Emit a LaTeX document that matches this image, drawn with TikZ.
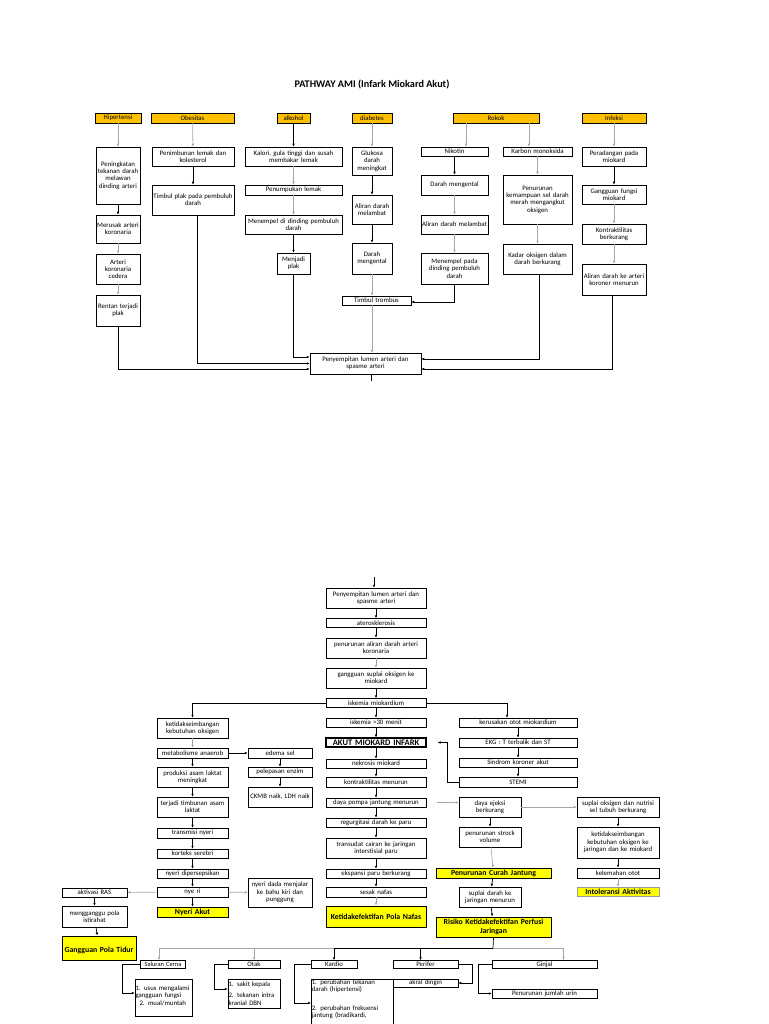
\documentclass[tikz,border=0pt]{standalone}
\usepackage{fontspec}
\setmainfont{Carlito}
\usetikzlibrary{arrows.meta}
\definecolor{causeorange}{HTML}{FFC000}
\definecolor{diagyellow}{HTML}{FFFF00}

\begin{document}
\begin{tikzpicture}[x=1pt, y=-1pt, >={Latex[length=3pt,width=2.6pt]},
      box/.style={
        % The shape:
        rectangle, draw, line width=0.5pt, inner xsep=0.5pt, inner ysep=0.5pt,
        % The rest
        fill=white, align=center, font=\fontsize{6.8}{7.3}\selectfont},
      cause/.style={box, fill=causeorange, minimum height=10pt},
      diag/.style={box, fill=diagyellow, line width=0.9pt,
        font=\fontsize{7.8}{8.6}\selectfont\bfseries},
      conn/.style={->, line width=0.7pt},
      connlight/.style={->, line width=0.6pt, black!35}]
    \path[use as bounding box, fill=white] (0,0) rectangle (768,1024);

    \node(title)[font=\fontsize{10.2}{12}\selectfont\bfseries, at={(372,84)}]{PATHWAY AMI (Infark Miokard Akut)};

    % causes
    \node(hip)[cause, text width=45pt, at={(118,118)}]{Hipertensi};
    \node(obe)[cause, text width=82pt, at={(192.5,118)}]{Obesitas};
    \node(alk)[cause, text width=32pt, at={(293.5,118)}]{alkohol};
    \node(dia)[cause, text width=39pt, at={(372,118)}]{diabetes};
    \node(rok)[cause, text width=85pt, at={(496,118)}]{Rokok};
    \node(inf)[cause, text width=63pt, at={(614,118)}]{Infeksi};

    % hipertensi
    \node(tek)[box, text width=43pt, minimum height=57pt, at={(118,175.5)}]{Peningkatan\\tekanan darah\\melawan\\dinding arteri};
    \node(rusak)[box, text width=43pt, minimum height=28pt, at={(118,229)}]{Merusak arteri\\koronaria};
    \node(cedera)[box, text width=43pt, minimum height=30pt, at={(118,269)}]{Arteri\\koronaria\\cedera};
    \node(rentan)[box, text width=43pt, minimum height=31pt, at={(118,310.5)}]{Rentan terjadi\\plak};
    \path (hip) edge[connlight] (tek);
    \path (tek) edge[conn] (rusak);
    \path (rusak) edge[connlight] (cedera);
    \path (cedera) edge[connlight] (rentan);

    % obesitas
    \node(lemak)[box, text width=81pt, minimum height=19pt, at={(193,156.5)}]{Penimbunan lemak dan\\kolesterol};
    \node(tplak)[box, text width=81pt, minimum height=30pt, at={(193,200)}]{Timbul plak pada pembuluh\\darah\\[3pt]};
    \path (obe) edge[connlight] (lemak);
    \path (lemak) edge[conn] (tplak);

    % alkohol
    \node(kalori)[box, text width=96pt, minimum height=19pt, at={(293.5,156.5)}]{Kalori, gula tinggi dan susah\\membakar lemak};
    \node(tumpuk)[box, text width=96pt, minimum height=10pt, at={(293.5,190)}]{Penumpukan lemak};
    \node(tempel)[box, text width=96pt, minimum height=19pt, at={(293.5,224.5)}]{Menempel di dinding pembuluh\\darah};
    \node(plak)[box, text width=32pt, minimum height=21pt, at={(293.5,263.5)}]{Menjadi\\plak};
    \path (alk) edge[conn] (kalori);
    \path (kalori) edge[connlight] (tumpuk);
    \path (tumpuk) edge[connlight] (tempel);
    \path (tempel) edge[conn] (plak);

    % diabetes
    \node(glukosa)[box, text width=39pt, minimum height=28pt, at={(372,161)}]{Glukosa\\darah\\meningkat};
    \node(lambat1)[box, text width=39pt, minimum height=29pt, at={(372,209.5)}]{Aliran darah\\melambat};
    \node(kental1)[box, text width=39pt, minimum height=31pt, at={(372,258.5)}]{Darah\\mengental};
    \node(trombus)[box, text width=68pt, minimum height=9pt, at={(376.5,300.5)}]{Timbul trombus};
    \path (dia) edge[connlight] (glukosa);
    \path (glukosa) edge[conn] (lambat1);
    \path (lambat1) edge[conn] (kental1);
    \draw[connlight] (kental1.south) -- (kental1 |- trombus.north);

    % rokok
    \node(nikotin)[box, text width=66pt, minimum height=9pt, at={(454.5,151.5)}]{Nikotin};
    \node(kental2)[box, text width=66pt, minimum height=20pt, at={(454.5,185)}]{Darah mengental};
    \node(lambat2)[box, text width=66pt, minimum height=19pt, at={(454.5,224.5)}]{Aliran darah melambat};
    \node(tempel2)[box, text width=66pt, minimum height=31pt, at={(454.5,268.5)}]{Menempel pada\\dinding pembuluh\\darah};
    \node(karbon)[box, text width=68pt, minimum height=9pt, at={(537.5,151.5)}]{Karbon monoksida};
    \node(sdm)[box, text width=68pt, minimum height=49pt, at={(537.5,199.5)}]{Penurunan\\kemampuan sel darah\\merah mengangkut\\oksigen};
    \node(kadar)[box, text width=68pt, minimum height=30pt, at={(537.5,259)}]{Kadar oksigen dalam\\darah berkurang};
    \draw[connlight] ([xshift=-30pt]rok.south) -- ([xshift=-30pt]rok.south |- nikotin.north);
    \draw[connlight] ([xshift=33pt]rok.south) -- ([xshift=33pt]rok.south |- karbon.north);
    \path (nikotin) edge[conn] (kental2);
    \path (kental2) edge[connlight] (lambat2);
    \path (lambat2) edge[connlight] (tempel2);
    \draw[conn] (tempel2.south) |- ([yshift=-1.5pt]trombus.east);
    \path (karbon) edge[connlight] (sdm);
    \path (sdm) edge[connlight] (kadar);

    % infeksi
    \node(radang)[box, text width=63pt, minimum height=19pt, at={(614,156.5)}]{Peradangan pada\\miokard};
    \node(fungsi)[box, text width=63pt, minimum height=19pt, at={(614,194.5)}]{Gangguan fungsi\\miokard};
    \node(kontrak1)[box, text width=63pt, minimum height=20pt, at={(614,234)}]{Kontraktilitas\\berkurang};
    \node(koroner)[box, text width=63pt, minimum height=31pt, at={(614,279.5)}]{Aliran darah ke arteri\\koroner menurun};
    \path (inf) edge[connlight] (radang);
    \path (radang) edge[conn] (fungsi);
    \path (fungsi) edge[connlight] (kontrak1);
    \path (kontrak1) edge[connlight] (koroner);

    % penyempitan
    \node(pen)[box, text width=110pt, minimum height=21pt, at={(365.5,363.5)}]{Penyempitan lumen arteri dan\\spasme arteri};
    \draw[conn] (rentan.south) |- ([yshift=-5.5pt]pen.west);
    \draw[conn] ([xshift=4pt]tplak.south) |- (pen.west);
    \draw[conn] (plak.south) |- ([yshift=6.5pt]pen.west);
    \draw[connlight] (kental1 |- trombus.south) -- (kental1 |- pen.north);
    \draw[conn] ([xshift=1.5pt]kadar.south) |- ([yshift=4.5pt]pen.east);
    \draw[conn] ([xshift=-2pt]koroner.south) |- ([yshift=-5.5pt]pen.east);
    \coordinate (lanjut) at (371,381);
    \draw[line width=0.7pt] (lanjut |- pen.south) -- (lanjut);

    % second part
    \coordinate (mulai) at (374,577);
    \node(pen2)[box, text width=99pt, minimum height=20pt, at={(376,598)}]{Penyempitan lumen arteri dan\\spasme arteri};
    \node(atero)[box, text width=99pt, minimum height=9pt, at={(376,623)}]{aterosklerosis};
    \node(alir)[box, text width=99pt, minimum height=20pt, at={(376,648)}]{penurunan aliran darah arteri\\koronaria};
    \node(suplai)[box, text width=99pt, minimum height=20pt, at={(376,678)}]{gangguan suplai oksigen ke\\miokard};
    \node(iskemia)[box, text width=99pt, minimum height=9pt, at={(376,703)}]{iskemia miokardium};
    \node(isk30)[box, text width=99pt, minimum height=9pt, at={(376,722.5)}]{iskemia >30 menit};
    \node(akut)[box, text width=99pt, minimum height=9pt, line width=1.1pt, font=\fontsize{8.5}{9}\selectfont\bfseries, at={(376,742.5)}]{AKUT MIOKARD INFARK};
    \node(nekrosis)[box, text width=99pt, minimum height=9pt, at={(376,763.5)}]{nekrosis miokard};
    \node(kontrak2)[box, text width=99pt, minimum height=10pt, at={(376,782)}]{kontraktilitas menurun};
    \node(pompa)[box, text width=99pt, minimum height=9pt, at={(376,802.5)}]{daya pompa jantung menurun};
    \node(regur)[box, text width=99pt, minimum height=9pt, at={(376,822.5)}]{regurgitasi darah ke paru};
    \node(transudat)[box, text width=99pt, minimum height=20pt, at={(376,848)}]{transudat cairan ke jaringan\\interstisial paru};
    \node(ekspansi)[box, text width=99pt, minimum height=9pt, at={(376,873.5)}]{ekspansi paru berkurang};
    \node(sesak)[box, text width=99pt, minimum height=10pt, at={(376,892)}]{sesak nafas};
    \node(nafas)[diag, text width=99pt, minimum height=21pt, at={(376,916.5)}]{Ketidakefektifan Pola Nafas};
    \draw[conn] (mulai) -- (mulai |- pen2.north);
    \path (pen2) edge[conn] (atero);
    \path (atero) edge[conn] (alir);
    \path (alir) edge[connlight] (suplai);
    \path (suplai) edge[conn] (iskemia);
    \path (iskemia) edge[conn] (isk30);
    \path (isk30) edge[conn] (akut);
    \path (akut) edge[conn] (nekrosis);
    \path (nekrosis) edge[conn] (kontrak2);
    \path (kontrak2) edge[conn] (pompa);
    \path (pompa) edge[conn] (regur);
    \path (regur) edge[conn] (transudat);
    \path (transudat) edge[conn] (ekspansi);
    \path (ekspansi) edge[conn] (sesak);
    \path (sesak) edge[connlight] (nafas);

    % left branch
    \node(seimbang1)[box, text width=70pt, minimum height=20pt, at={(192.5,728)}]{ketidakseimbangan\\kebutuhan oksigen};
    \node(anaerob)[box, text width=70pt, minimum height=10pt, at={(192.5,753)}]{metabolisme anaerob};
    \node(laktat)[box, text width=70pt, minimum height=20pt, at={(192.5,777)}]{produksi asam laktat\\meningkat};
    \node(timbunan)[box, text width=70pt, minimum height=20pt, at={(192.5,807)}]{terjadi timbunan asam\\laktat};
    \node(transmisi)[box, text width=70pt, minimum height=10pt, at={(192.5,833)}]{transmisi nyeri};
    \node(korteks)[box, text width=70pt, minimum height=9pt, at={(192.5,853.5)}]{korteks serebri};
    \node(persepsi)[box, text width=70pt, minimum height=9pt, at={(192.5,873.5)}]{nyeri dipersepsikan};
    \node(nyeri)[box, text width=70pt, minimum height=10pt, at={(192.5,892)}]{nye ri};
    \node(nyeriakut)[diag, text width=70pt, minimum height=10pt, line width=0.5pt, at={(192.5,912)}]{Nyeri Akut};
    \node(edema)[box, text width=63pt, minimum height=10pt, at={(280,753)}]{edema sel};
    \node(enzim)[box, text width=63pt, minimum height=10pt, at={(280,772)}]{pelepasan enzim};
    \node(ckmb)[box, text width=63pt, minimum height=20pt, at={(280,797)}]{\\[-3pt]CKMB naik, LDH naik};
    \node(menjalar)[box, text width=63pt, minimum height=29pt, at={(280,892.5)}]{nyeri dada menjalar\\ke bahu kiri dan\\punggung};
    \node(ras)[box, text width=64pt, minimum height=9pt, at={(94.5,892.5)}]{aktivasi RAS};
    \node(istirahat)[box, text width=64pt, minimum height=21pt, at={(94.5,916.5)}]{mengganggu pola\\istirahat};
    \node(tidur)[diag, text width=73pt, minimum height=24pt, line width=1pt, at={(99,948)}]{\\[1pt]Gangguan Pola Tidur};
    \draw[conn] (iskemia.west) -| (seimbang1.north);
    \path (seimbang1) edge[connlight] (anaerob);
    \path (anaerob) edge[conn] (laktat);
    \path (laktat) edge[conn] (timbunan);
    \path (timbunan) edge[conn] (transmisi);
    \path (transmisi) edge[conn] (korteks);
    \path (korteks) edge[conn] (persepsi);
    \path (persepsi) edge[conn] (nyeri);
    \path (nyeri) edge[conn] (nyeriakut);
    \path (anaerob) edge[conn] (edema);
    \path (edema) edge[conn] (enzim);
    \path (enzim) edge[conn] (ckmb);
    \path (nyeri) edge[connlight] (menjalar);
    \path (nyeri) edge[connlight] (ras);
    \path (ras) edge[conn] (istirahat);
    \path (istirahat) edge[conn] (tidur);

    % right branch
    \node(kerusakan)[box, text width=117pt, minimum height=9pt, at={(518,722.5)}]{kerusakan otot miokardium};
    \node(ekg)[box, text width=117pt, minimum height=9pt, at={(518,742.5)}]{EKG : T terbalik dan ST};
    \node(sindrom)[box, text width=117pt, minimum height=9pt, at={(518,762.5)}]{Sindrom koroner akut};
    \node(stemi)[box, text width=117pt, minimum height=10pt, at={(518,782)}]{STEMI};
    \node(ejeksi)[box, text width=61pt, minimum height=20pt, at={(490,807)}]{daya ejeksi\\berkurang};
    \node(stroke)[box, text width=61pt, minimum height=20pt, at={(490,837)}]{penurunan strock\\volume};
    \node(curah)[diag, text width=114pt, minimum height=10pt, line width=0.5pt, at={(493.5,873)}]{Penurunan Curah Jantung};
    \node(darahjar)[box, text width=61pt, minimum height=20pt, at={(490,897)}]{suplai darah ke\\jaringan menurun};
    \node(perfusi)[diag, text width=114pt, minimum height=20pt, line width=1pt, at={(493.5,927)}]{Risiko Ketidakefektifan Perfusi\\Jaringan};
    \node(nutrisi)[box, text width=81pt, minimum height=20pt, at={(618,807)}]{suplai oksigen dan nutrisi\\sel tubuh berkurang};
    \node(seimbang2)[box, text width=81pt, minimum height=31pt, at={(618,842.5)}]{ketidakseimbangan\\kebutuhan oksigen ke\\jaringan dan ke miokard};
    \node(lemah)[box, text width=81pt, minimum height=10pt, at={(618,873)}]{kelemahan otot};
    \node(toleransi)[diag, text width=81pt, minimum height=9pt, line width=0.3pt, draw=black!40, at={(618,891.5)}]{Intoleransi Aktivitas};
    \draw[conn] (iskemia.east) -| ([xshift=-11pt]kerusakan.north);
    \path (kerusakan) edge[conn] (ekg);
    \path (ekg) edge[conn] (sindrom);
    \path (sindrom) edge[conn] (stemi);
    \draw[conn, shorten >=11pt] (stemi.west) -- ++(-11,0) |- (akut.east);
    \draw[connlight, shorten <=11pt] (pompa.east) -- (pompa.east -| ejeksi.west);
    \path (ejeksi) edge[connlight] (nutrisi);
    \path (ejeksi) edge[conn] (stroke);
    \path (stroke) edge[connlight] (curah);
    \path (curah) edge[conn] (darahjar);
    \path (darahjar) edge[conn] (perfusi);
    \path (nutrisi) edge[conn] (seimbang2);
    \path (seimbang2) edge[conn] (lemah);
    \path (lemah) edge[connlight] (toleransi);

    % organs
    \coordinate (bus) at (493,948);
    \node(cerna)[box, text width=44pt, minimum height=8pt, font=\fontsize{6.4}{7}\selectfont, at={(163,964.5)}]{Saluran Cerna};
    \node(otak)[box, text width=51pt, minimum height=8pt, at={(254,964.5)}]{Otak};
    \node(kardio)[box, text width=45pt, minimum height=8pt, at={(334,964.5)}]{Kardio};
    \node(perifer)[box, text width=64pt, minimum height=8pt, at={(425.5,964.5)}]{Perifer};
    \node(ginjal)[box, text width=104pt, minimum height=8pt, at={(544.5,964.5)}]{Ginjal};
    \node(cernad)[box, text width=56pt, minimum height=37pt, align=left, at={(163.5,997.5)}]{\\[-6pt]1. usus mengalami\\gangguan fungsi\\[1pt]\hspace{4pt}2. mual/muntah};
    \node(otakd)[box, text width=51pt, minimum height=29pt, align=left, at={(254,993.5)}]{1. sakit kepala\\[4pt]2. tekanan intra\\kranial DBN};
    \node(kardiod)[box, text width=81pt, align=left, anchor=north west, at={(311,979)}]{1. perubahan tekanan\\darah (hipertensi)\\[11pt]2. perubahan frekuensi\\jantung (bradikardi,\\[20pt]\mbox{}};
    \node(akral)[box, text width=64pt, minimum height=8pt, at={(425.5,983)}]{akral dingin};
    \node(urin)[box, text width=104pt, minimum height=9pt, at={(544.5,993.5)}]{Penurunan jumlah urin};
    \draw[line width=0.7pt] (perfusi.south) -- (bus);
    \draw[connlight] (bus) -| ([xshift=-4pt]cerna.north);
    \draw[connlight] (bus) -| (otak.north);
    \draw[conn] (bus) -| (kardio.north);
    \draw[conn] (bus) -| ([xshift=-5pt]perifer.north);
    \draw[connlight] (bus) -| ([xshift=19pt]ginjal.north);
    \draw[conn] (cerna.west) -- ++(-18,0) |- ([yshift=4.5pt]cernad.west);
    \draw[conn] (otak.west) -- ++(-13,0) |- ([yshift=4.5pt]otakd.west);
    \draw[conn] (kardio.west) -- ++(-16,0) |- ([yshift=-24pt]kardiod.north west);
    \draw[conn] (perifer.east) -- ++(14,0) |- (akral.east);
    \draw[conn] (ginjal.west) -- ++(-13,0) |- (urin.west);

  \end{tikzpicture}
\end{document}
